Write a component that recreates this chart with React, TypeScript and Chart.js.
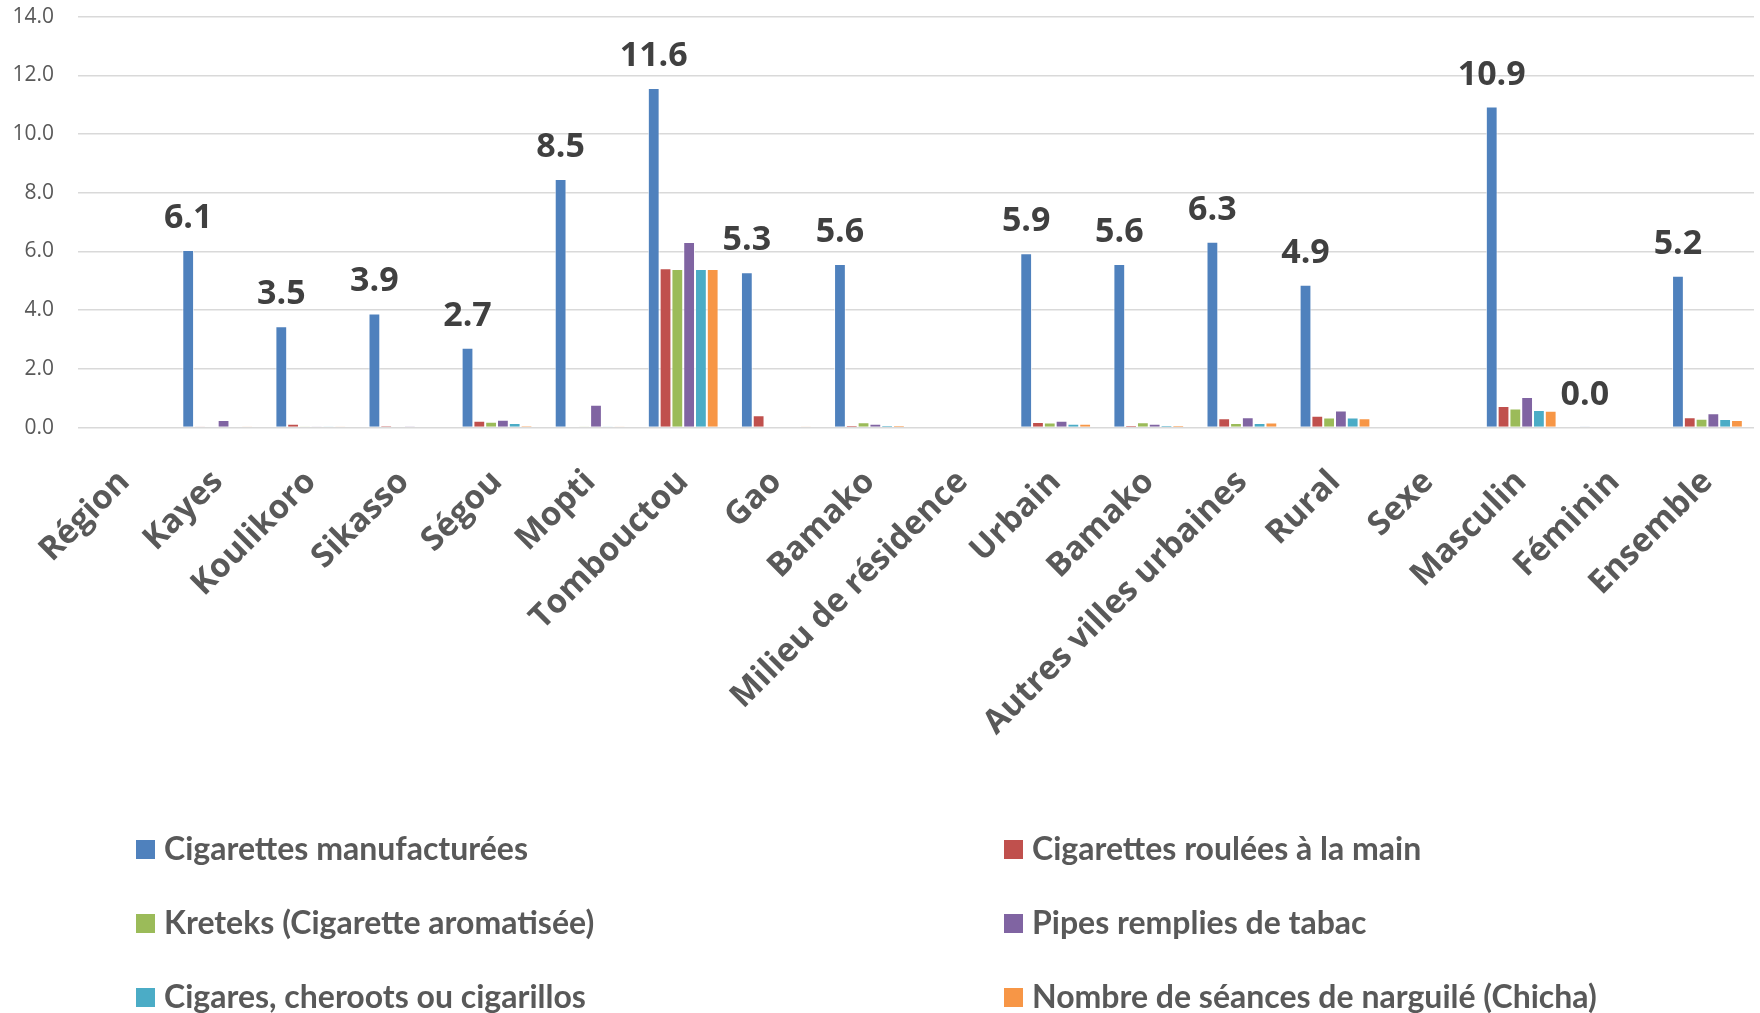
import React, { useEffect, useRef } from "react";
import { Chart, registerables } from "chart.js";

Chart.register(...registerables);

const categories = [
  "Région", "Kayes", "Koulikoro", "Sikasso", "Ségou", "Mopti", "Tombouctou", "Gao", "Bamako",
  "Milieu de résidence", "Urbain", "Bamako", "Autres villes urbaines", "Rural",
  "Sexe", "Masculin", "Féminin", "Ensemble",
];

const seriesNames = [
  "Cigarettes manufacturées",
  "Cigarettes roulées à la main",
  "Kreteks (Cigarette aromatisée)",
  "Pipes remplies de tabac",
  "Cigares, cheroots ou cigarillos",
  "Nombre de séances de narguilé (Chicha)",
];

const manufacturees = [null, 6.05, 3.45, 3.89, 2.72, 8.47, 11.57, 5.29, 5.57, null, 5.94, 5.57, 6.33, 4.87, null, 10.94, 0.02, 5.17];
const roulees = [null, 0.02, 0.13, 0.07, 0.23, 0.04, 5.43, 0.42, 0.08, null, 0.19, 0.08, 0.32, 0.4, null, 0.74, 0, 0.35];
const kreteks = [null, 0, 0.02, 0, 0.2, 0.01, 5.4, 0, 0.18, null, 0.17, 0.18, 0.16, 0.34, null, 0.65, 0, 0.3];
const pipes = [null, 0.26, 0.02, 0.05, 0.27, 0.78, 6.32, 0, 0.13, null, 0.23, 0.13, 0.35, 0.58, null, 1.04, 0, 0.49];
const cigares = [null, 0, 0.02, 0, 0.16, 0.01, 5.4, 0, 0.08, null, 0.13, 0.08, 0.16, 0.34, null, 0.6, 0, 0.29];
const narguile = [null, 0.01, 0.02, 0, 0.07, 0.02, 5.4, 0.02, 0.08, null, 0.13, 0.08, 0.17, 0.32, null, 0.57, 0, 0.26];

const seriesValues = [manufacturees, roulees, kreteks, pipes, cigares, narguile];
const seriesColors = ["#4F81BD", "#C0504D", "#9BBB59", "#8064A2", "#4BACC6", "#F79646"];

const yTicks = [0, 2, 4, 6, 8, 10, 12, 14];

const W = 1760;
const H = 1013;
const PLOT_TOP = 16.7;
const PLOT_BOTTOM = 427.6;

const dataLabelPlugin = {
  id: "dataLabels",
  afterDatasetsDraw(chart: any) {
    const ctx = chart.ctx;
    const meta = chart.getDatasetMeta(0);
    const data = chart.data.datasets[0].data;
    ctx.save();
    ctx.font = "bold 34px 'Open Sans', sans-serif";
    ctx.fillStyle = "#404040";
    ctx.textAlign = "center";
    ctx.textBaseline = "alphabetic";
    meta.data.forEach((el: any, i: number) => {
      const v = data[i];
      if (v === null || v === undefined) return;
      const txt = (Math.round(v * 10) / 10).toFixed(1);
      ctx.fillText(txt, el.x, el.y - 22);
    });
    ctx.restore();
  },
};

const legendPlugin = {
  id: "gridLegend",
  afterDraw(chart: any) {
    const ctx = chart.ctx;
    const colX = [136, 1004];
    const firstRowY = 849.5;
    const rowGap = 74;
    ctx.save();
    ctx.font = "bold 32px Lato, sans-serif";
    ctx.textAlign = "left";
    ctx.textBaseline = "alphabetic";
    chart.data.datasets.forEach((ds: any, i: number) => {
      const col = i % 2;
      const row = Math.floor(i / 2);
      const x = colX[col];
      const cy = firstRowY + row * rowGap;
      ctx.fillStyle = ds.backgroundColor;
      ctx.fillRect(x, cy - 9.5, 19, 19);
      ctx.fillStyle = "#595959";
      ctx.fillText(ds.label, x + 28, cy + 10.5);
    });
    ctx.restore();
  },
};

export default function App() {
  const canvasRef = useRef<HTMLCanvasElement | null>(null);

  useEffect(() => {
    if (!canvasRef.current) return;
    const chart = new Chart(canvasRef.current, {
      type: "bar",
      data: {
        labels: categories,
        datasets: seriesValues.map((vals, i) => ({
          label: seriesNames[i],
          data: vals,
          backgroundColor: seriesColors[i],
          borderColor: "rgba(255,255,255,0.7)",
          borderWidth: 1,
          barPercentage: 1,
          categoryPercentage: 0.76,
        })),
      },
      options: {
        animation: false,
        responsive: true,
        maintainAspectRatio: false,
        devicePixelRatio: 1,
        layout: { padding: { top: 0, right: 6, left: 0, bottom: 0 } },
        plugins: {
          legend: { display: false },
          tooltip: { enabled: false },
          title: { display: false },
        },
        scales: {
          x: {
            grid: { display: false, drawTicks: false },
            border: { display: false },
            ticks: {
              autoSkip: false,
              maxRotation: 45,
              minRotation: 45,
              padding: 35,
              color: "#595959",
              font: { family: "'Open Sans', sans-serif", size: 33, weight: "bold" },
            },
            afterFit(scale: any) {
              scale.height = H - PLOT_BOTTOM;
              scale.paddingLeft = 0;
              scale.paddingRight = 0;
            },
          },
          y: {
            min: 0,
            max: 14,
            afterBuildTicks(scale: any) {
              scale.ticks = yTicks.map((v) => ({ value: v }));
            },
            grid: { color: "#D9D9D9", lineWidth: 1.5, drawTicks: false },
            border: { display: false },
            ticks: {
              padding: 24,
              color: "#595959",
              font: { family: "'Open Sans', sans-serif", size: 21 },
              callback: (v: any) => Number(v).toFixed(1),
            },
            afterFit(scale: any) {
              scale.width = 78;
              scale.paddingTop = PLOT_TOP;
              scale.paddingBottom = 0;
            },
          },
        },
      },
      plugins: [dataLabelPlugin, legendPlugin],
    });
    return () => chart.destroy();
  }, []);

  return (
    <div style={{ position: "absolute", left: 0, top: 0, width: W, height: H, background: "#fff" }}>
      <canvas ref={canvasRef} />
    </div>
  );
}
